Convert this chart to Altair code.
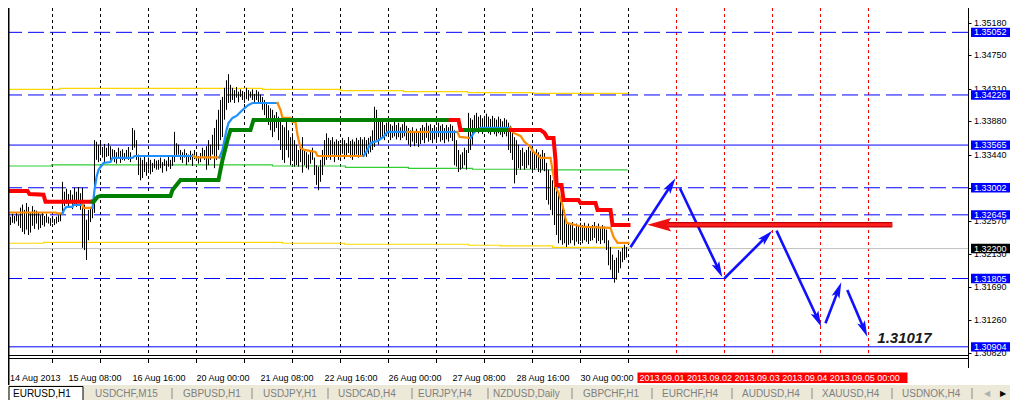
import math
import altair as alt
import pandas as pd

# ------------------------------------------------------------------ data
# EURUSD H1 bars (one per hour, 14 Aug 2013 00:00 .. 30 Aug 2013 23:00)
bar_high = [
    1.3266, 1.3263, 1.3264, 1.3262, 1.3266, 1.3263, 1.3267, 1.3264,
    1.3274, 1.3278, 1.3271, 1.3280, 1.3275, 1.3268, 1.3276, 1.3271,
    1.3270, 1.3267, 1.3264, 1.3268, 1.3263, 1.3266,
    1.3262, 1.3260, 1.3263, 1.3259, 1.3262, 1.3264, 1.3267,
    1.3308,
    1.3295, 1.3299, 1.3292, 1.3297, 1.3291, 1.3300, 1.3295, 1.3301, 1.3293,
    1.3300, 1.3278, 1.3258, 1.3271,
    1.3275, 1.3278, 1.3363,
    1.3361, 1.3357, 1.3362, 1.3354, 1.3358, 1.3353, 1.3359, 1.3355, 1.3351,
    1.3350, 1.3347, 1.3353, 1.3349, 1.3351, 1.3346, 1.3350, 1.3354, 1.3347,
    1.3379, 1.3376, 1.3363,
    1.3344, 1.3340, 1.3337, 1.3341, 1.3334, 1.3340, 1.3337, 1.3333, 1.3338, 1.3336,
    1.3337, 1.3340, 1.3334, 1.3338, 1.3336, 1.3341, 1.3337, 1.3342,
    1.3374, 1.3359, 1.3357,
    1.3350, 1.3347, 1.3351, 1.3346, 1.3344, 1.3349, 1.3345, 1.3350, 1.3347,
    1.3342, 1.3346, 1.3353, 1.3350, 1.3355, 1.3363, 1.3357, 1.3370,
    1.3379, 1.3390, 1.3403, 1.3416, 1.3420, 1.3432,
    1.3442, 1.3450, 1.3436,
    1.3432, 1.3429, 1.3433, 1.3427, 1.3430, 1.3428, 1.3425, 1.3432, 1.3429,
    1.3427, 1.3430, 1.3424, 1.3429, 1.3427, 1.3423,
    1.3420, 1.3416, 1.3412, 1.3409, 1.3405, 1.3403, 1.3396, 1.3400,
    1.3394, 1.3390, 1.3383, 1.3380, 1.3387, 1.3376, 1.3367, 1.3372, 1.3363,
    1.3357, 1.3350, 1.3353, 1.3367, 1.3350, 1.3347, 1.3344, 1.3350, 1.3353, 1.3340,
    1.3330, 1.3328, 1.3337, 1.3350, 1.3363,
    1.3372, 1.3366, 1.3363, 1.3367, 1.3361, 1.3364, 1.3362, 1.3358, 1.3366, 1.3363,
    1.3359, 1.3367, 1.3362, 1.3364, 1.3361, 1.3366, 1.3363, 1.3367, 1.3364,
    1.3367, 1.3363, 1.3366, 1.3368, 1.3376, 1.3407,
    1.3403, 1.3392, 1.3390,
    1.3387, 1.3383, 1.3386, 1.3390, 1.3384, 1.3382, 1.3388, 1.3383, 1.3386,
    1.3380, 1.3384, 1.3387, 1.3382,
    1.3379, 1.3376, 1.3380, 1.3374, 1.3378, 1.3375, 1.3379,
    1.3383, 1.3380, 1.3386, 1.3382, 1.3384, 1.3379, 1.3383, 1.3380, 1.3386,
    1.3382, 1.3384, 1.3379, 1.3383, 1.3380, 1.3384, 1.3382,
    1.3376, 1.3363, 1.3350, 1.3344, 1.3347, 1.3353, 1.3350,
    1.3399, 1.3392, 1.3390,
    1.3396, 1.3399, 1.3394, 1.3396, 1.3392, 1.3395, 1.3398, 1.3394, 1.3391,
    1.3395, 1.3392, 1.3390, 1.3394, 1.3391, 1.3388, 1.3392, 1.3390,
    1.3386, 1.3382, 1.3376, 1.3367,
    1.3363, 1.3357, 1.3350, 1.3353, 1.3347, 1.3350, 1.3354, 1.3349,
    1.3350, 1.3346, 1.3351, 1.3347, 1.3344, 1.3350, 1.3346,
    1.3333, 1.3324, 1.3317,
    1.3310, 1.3304, 1.3297, 1.3291, 1.3284, 1.3278, 1.3271,
    1.3258, 1.3254, 1.3251, 1.3255, 1.3247, 1.3253, 1.3250, 1.3254,
    1.3251, 1.3254, 1.3250, 1.3253, 1.3249, 1.3251, 1.3255, 1.3250, 1.3253,
    1.3247, 1.3251, 1.3249,
    1.3245, 1.3231, 1.3222, 1.3212,
    1.3205, 1.3208,
    1.3218, 1.3216, 1.3221, 1.3225, 1.3222,
]
bar_low = [
    1.3253, 1.3250, 1.3255, 1.3251, 1.3254, 1.3253, 1.3256, 1.3250,
    1.3247, 1.3242, 1.3239, 1.3245, 1.3238, 1.3241, 1.3250, 1.3246,
    1.3253, 1.3245, 1.3247, 1.3251, 1.3249, 1.3254,
    1.3253, 1.3250, 1.3254, 1.3251, 1.3253, 1.3255, 1.3256,
    1.3267,
    1.3276, 1.3279, 1.3274, 1.3280, 1.3272, 1.3278, 1.3275, 1.3284, 1.3271,
    1.3221, 1.3218, 1.3205, 1.3231,
    1.3255, 1.3260, 1.3267,
    1.3337, 1.3334, 1.3344, 1.3340, 1.3333, 1.3341, 1.3342, 1.3336, 1.3340,
    1.3334, 1.3332, 1.3340, 1.3333, 1.3337, 1.3336, 1.3338, 1.3337, 1.3334,
    1.3350, 1.3353, 1.3337,
    1.3317, 1.3310, 1.3313, 1.3321, 1.3316, 1.3324, 1.3318, 1.3321, 1.3326, 1.3324,
    1.3324, 1.3326, 1.3320, 1.3329, 1.3322, 1.3328, 1.3325, 1.3329,
    1.3334, 1.3341, 1.3344,
    1.3337, 1.3333, 1.3340, 1.3330, 1.3334, 1.3337, 1.3329, 1.3338, 1.3336,
    1.3332, 1.3334, 1.3340, 1.3337, 1.3324, 1.3330, 1.3337, 1.3344,
    1.3326, 1.3337, 1.3350, 1.3363, 1.3367, 1.3390,
    1.3403, 1.3412, 1.3413,
    1.3416, 1.3412, 1.3419, 1.3413, 1.3420, 1.3416, 1.3412, 1.3417, 1.3415,
    1.3419, 1.3416, 1.3412, 1.3416, 1.3413, 1.3412,
    1.3403, 1.3396, 1.3390, 1.3383, 1.3376, 1.3367, 1.3374, 1.3379,
    1.3363, 1.3350, 1.3337, 1.3333, 1.3350, 1.3340, 1.3330, 1.3337, 1.3328,
    1.3330, 1.3328, 1.3334, 1.3320, 1.3330, 1.3326, 1.3324, 1.3332, 1.3337, 1.3317,
    1.3304, 1.3297, 1.3308, 1.3317, 1.3330,
    1.3337, 1.3340, 1.3337, 1.3344, 1.3334, 1.3341, 1.3337, 1.3340, 1.3345, 1.3338,
    1.3342, 1.3346, 1.3340, 1.3337, 1.3341, 1.3344, 1.3340, 1.3342, 1.3341,
    1.3344, 1.3341, 1.3345, 1.3347, 1.3350, 1.3354,
    1.3363, 1.3357, 1.3366,
    1.3366, 1.3363, 1.3368, 1.3370, 1.3363, 1.3366, 1.3368, 1.3364, 1.3367,
    1.3363, 1.3366, 1.3368, 1.3363,
    1.3357, 1.3354, 1.3361, 1.3355, 1.3359, 1.3354, 1.3358,
    1.3363, 1.3359, 1.3366, 1.3361, 1.3363, 1.3359, 1.3364, 1.3362, 1.3367,
    1.3361, 1.3363, 1.3359, 1.3364, 1.3361, 1.3366, 1.3362,
    1.3330, 1.3328, 1.3321, 1.3324, 1.3326, 1.3330, 1.3324,
    1.3346, 1.3350, 1.3357,
    1.3374, 1.3376, 1.3372, 1.3375, 1.3371, 1.3374, 1.3376, 1.3372, 1.3370,
    1.3374, 1.3371, 1.3368, 1.3372, 1.3370, 1.3367, 1.3371, 1.3368,
    1.3350, 1.3346, 1.3337, 1.3306,
    1.3317, 1.3326, 1.3324, 1.3329, 1.3324, 1.3326, 1.3330, 1.3325,
    1.3320, 1.3324, 1.3326, 1.3321, 1.3320, 1.3324, 1.3322,
    1.3284, 1.3278, 1.3271,
    1.3264, 1.3251, 1.3238, 1.3227, 1.3231, 1.3225, 1.3227,
    1.3222, 1.3225, 1.3227, 1.3231, 1.3224, 1.3229, 1.3226, 1.3230,
    1.3227, 1.3231, 1.3229, 1.3226, 1.3230, 1.3231, 1.3234, 1.3227, 1.3230,
    1.3226, 1.3231, 1.3227,
    1.3218, 1.3198, 1.3192, 1.3181,
    1.3175, 1.3179,
    1.3188, 1.3194, 1.3202, 1.3205, 1.3208,
]

# horizontal price levels
level_prices = [1.35052, 1.34226, 1.33565, 1.33002, 1.32645, 1.31805, 1.30904]
level_dashed = [True, True, False, True, True, True, False]
current_price = 1.32200
axis_ticks = [1.35180, 1.34750, 1.34310, 1.33880, 1.33440, 1.33000,
              1.32570, 1.32130, 1.31690, 1.31260, 1.30820]

# time axis
time_label_bars = [0, 32, 64, 96, 128, 160, 192, 224, 256, 288]
time_labels = ["14 Aug 2013", "15 Aug 08:00", "16 Aug 16:00", "20 Aug 00:00",
               "21 Aug 08:00", "22 Aug 16:00", "26 Aug 00:00", "27 Aug 08:00",
               "28 Aug 16:00", "30 Aug 00:00"]
grid_bars = [24, 48, 72, 96, 120, 144, 168, 192, 216, 240, 264, 288, 312]
future_bars = [336, 360, 384, 408, 432]
future_label = "2013.09.01 2013.09.02 2013.09.03 2013.09.04 2013.09.05 00:00"
future_label_span = [316.5, 451.5]

# moving average (blue = rising, orange = falling)
ma_bar = [-0.5, 25.5, 27, 29, 30, 31, 34, 34.5, 39, 39.5, 44, 45, 46, 47, 48, 49.5,
          53, 54, 64, 65, 94.5, 95.5, 107.5, 109, 110, 111, 112, 114, 116, 118, 120,
          122, 124, 136.5, 138, 139, 143, 144, 145.5, 146.5, 148, 150, 155.5, 156.5,
          179.5, 181.5, 183, 186.5, 189.5, 191.5, 201.5, 213, 226.5, 227.5, 233, 235,
          236.5, 238, 253, 254.5, 258, 260, 263, 264.5, 266.5, 268, 273, 274, 275.5,
          277, 279, 281, 289.5, 303, 304.5, 306.5, 312]
ma_price = [1.32676, 1.32676, 1.32663, 1.32663, 1.32722, 1.32749, 1.32749, 1.32775,
            1.32775, 1.32736, 1.32736, 1.32973, 1.33144, 1.33237, 1.33276, 1.33329,
            1.33342, 1.33395, 1.33395, 1.33421, 1.33421, 1.33402, 1.33402, 1.33501,
            1.33632, 1.33764, 1.33857, 1.33923, 1.33949, 1.34002, 1.34054, 1.34094,
            1.34120, 1.34120, 1.34028, 1.33923, 1.33923, 1.33870, 1.33870, 1.33698,
            1.33527, 1.33501, 1.33474, 1.33421, 1.33421, 1.33501, 1.33593, 1.33619,
            1.33672, 1.33738, 1.33738, 1.33738, 1.33738, 1.33672, 1.33659, 1.33738,
            1.33764, 1.33791, 1.33791, 1.33725, 1.33685, 1.33606, 1.33540, 1.33474,
            1.33435, 1.33395, 1.33395, 1.33237, 1.33014, 1.32933, 1.32775, 1.32538,
            1.32485, 1.32472, 1.32353, 1.32274, 1.32274]
ma_trend = ["dn", "dn", "dn", "dn", "up", "up", "up", "up", "up", "dn", "dn", "up", "up",
            "up", "up", "up", "up", "up", "up", "up", "up", "dn", "dn", "up", "up", "up",
            "up", "up", "up", "up", "up", "up", "up", "up", "dn", "dn", "dn", "dn", "dn",
            "dn", "dn", "dn", "dn", "dn", "dn", "up", "up", "up", "up", "up", "up", "dn",
            "up", "dn", "dn", "up", "up", "up", "up", "dn", "dn", "dn", "dn", "dn", "dn",
            "dn", "dn", "dn", "dn", "dn", "dn", "dn", "dn", "dn", "dn", "dn", "dn"]

# trend stop line (green = up, red = down)
rg_bar = [-0.5, 11.5, 12.5, 19.5, 20.5, 44, 44.5, 46.5, 48, 83, 84, 88, 107, 108, 109,
          111.5, 113, 123, 124.5, 223, 227, 228, 230.5, 253, 268, 270, 271.5, 274.5,
          275.5, 276, 278.5, 279.5, 287, 288, 295.5, 296.5, 303, 304, 312]
rg_price = [1.32960, 1.32960, 1.32920, 1.32911, 1.32818, 1.32818, 1.32815, 1.32881,
            1.32894, 1.32894, 1.32973, 1.33105, 1.33105, 1.33237, 1.33369, 1.33632,
            1.33764, 1.33764, 1.33896, 1.33896, 1.33896, 1.33764, 1.33764, 1.33764,
            1.33764, 1.33725, 1.33659, 1.33659, 1.33369, 1.33039, 1.33039, 1.32841,
            1.32841, 1.32801, 1.32801, 1.32709, 1.32709, 1.32511, 1.32511]
rg_trend = ["dn", "dn", "dn", "dn", "dn", "dn", "up", "up", "up", "up", "up", "up", "up",
            "up", "up", "up", "up", "up", "up", "up", "dn", "dn", "dn", "up", "dn", "dn",
            "dn", "dn", "dn", "dn", "dn", "dn", "dn", "dn", "dn", "dn", "dn", "dn", "dn"]

# thin channel lines
yellow_hi_bar = [-0.5, 1.5, 1.5, 27.5, 27.5, 129, 129, 168, 168, 199.5, 199.5, 231.5,
                 231.5, 264.5, 264.5, 312]
yellow_hi_price = [1.34292, 1.34292, 1.34301, 1.34301, 1.34314, 1.34314, 1.34301,
                   1.34301, 1.34283, 1.34283, 1.34270, 1.34270, 1.34256, 1.34256,
                   1.34248, 1.34248]
yellow_lo_bar = [-0.5, 19.5, 19.5, 139, 139, 170, 170, 232, 232, 248, 248, 274, 274, 312]
yellow_lo_price = [1.32270, 1.32270, 1.32283, 1.32283, 1.32270, 1.32270, 1.32257,
                   1.32257, 1.32244, 1.32244, 1.32235, 1.32235, 1.32217, 1.32217]
green_bar = [-0.5, 23.5, 23.5, 134, 134, 170.5, 170.5, 202, 202, 234, 234, 268, 268, 311.5]
green_price = [1.33289, 1.33289, 1.33303, 1.33303, 1.33289, 1.33289, 1.33272, 1.33272,
               1.33259, 1.33259, 1.33246, 1.33246, 1.33237, 1.33237]

# forecast arrows
arrow_from_bar = [313, 337.7, 360, 386, 410.5, 421.4]
arrow_from_price = [1.32217, 1.32995, 1.31808, 1.32436, 1.31215, 1.31654]
arrow_to_bar = [335.5, 358.9, 383.9, 408.4, 418.4, 431.4]
arrow_to_price = [1.33127, 1.31821, 1.32436, 1.31170, 1.31756, 1.31038]
red_arrow_from = [443.9, 1.32515]
red_arrow_to = [321.4, 1.32515]
target_text = "1.31017"
target_at = [436.4, 1.31017]

tabs = ["EURUSD,H1", "USDCHF,M15", "GBPUSD,H1", "USDJPY,H1", "USDCAD,H4", "EURJPY,H4",
        "NZDUSD,Daily", "GBPCHF,H1", "EURCHF,H4", "AUDUSD,H4", "XAUUSD,H4", "USDNOK,H4"]

# ------------------------------------------------------------------ layout
W, H = 960, 348
X0, X1 = 1.75, 481.75
Y0, Y1 = 1.30783, 1.35373
SX = W / (X1 - X0)
SY = H / (Y1 - Y0)
FONT = "Liberation Sans"
TAB_X = [5, 87, 175, 255, 330, 410, 485, 575, 654, 734, 814, 894]
SEP_X = [164, 244, 320, 404, 480, 564, 644, 724, 804, 884, 964]

xs = alt.Scale(domain=[X0, X1], nice=False, zero=False)
ys = alt.Scale(domain=[Y0, Y1], nice=False, zero=False)

yaxis = alt.Axis(orient="right", values=axis_ticks, labels=False, tickColor="black",
                 tickSize=3, domainColor="black", grid=False, title=None, zindex=0)


def X(field):
    return alt.X(field, type="quantitative", scale=xs, axis=None)


def Y(field):
    return alt.Y(field, type="quantitative", scale=ys, axis=yaxis, title=None)


layers = []
one = pd.DataFrame({"a": [0]})

# vertical dotted grid (black) and future day separators (red)
grid_df = pd.DataFrame({"bar": grid_bars})
layers.append(alt.Chart(grid_df).mark_rule(color="black", strokeWidth=1, strokeDash=[3, 3])
              .encode(x=X("bar")))
fut_df = pd.DataFrame({"bar": future_bars})
layers.append(alt.Chart(fut_df).mark_rule(color="#ff0000", strokeWidth=1, strokeDash=[3, 3])
              .encode(x=X("bar")))

# price levels
lv = pd.DataFrame({"price": level_prices, "dashed": level_dashed})
layers.append(alt.Chart(lv[lv.dashed]).mark_rule(color="#0000ff", strokeWidth=1, strokeDash=[16, 6])
              .encode(y=Y("price")))
layers.append(alt.Chart(lv[~lv.dashed]).mark_rule(color="#0000ff", strokeWidth=1)
              .encode(y=Y("price")))
layers.append(alt.Chart(pd.DataFrame({"price": [current_price]}))
              .mark_rule(color="#c0c0c0", strokeWidth=1).encode(y=Y("price")))

# thin channel lines
for bars, prices, col in [(yellow_hi_bar, yellow_hi_price, "#ffd700"),
                          (yellow_lo_bar, yellow_lo_price, "#ffd700"),
                          (green_bar, green_price, "#32cd32")]:
    d = pd.DataFrame({"bar": bars, "price": prices, "o": range(len(bars))})
    layers.append(alt.Chart(d).mark_line(color=col, strokeWidth=1.2)
                  .encode(x=X("bar"), y=Y("price"), order="o:Q"))

# price bars
bars_df = pd.DataFrame({"bar": range(len(bar_high)), "high": bar_high, "low": bar_low})
layers.append(alt.Chart(bars_df).mark_rule(color="black", strokeWidth=1)
              .encode(x=X("bar"), y=Y("low"), y2="high"))


def runs(bars, prices, trend, name):
    rows = []
    run = 0
    for i in range(1, len(bars)):
        if i == 1 or trend[i] != trend[i - 1]:
            run += 1
            rows.append({"bar": bars[i - 1], "price": prices[i - 1],
                         "seg": f"{name}{run}", "o": i - 1, "trend": trend[i]})
        rows.append({"bar": bars[i], "price": prices[i], "seg": f"{name}{run}",
                     "o": i, "trend": trend[i]})
    return pd.DataFrame(rows)


ma_df = runs(ma_bar, ma_price, ma_trend, "ma")
layers.append(alt.Chart(ma_df).mark_line(strokeWidth=2.2, strokeJoin="miter", strokeCap="square")
              .encode(x=X("bar"), y=Y("price"), detail="seg:N", order="o:Q",
                      color=alt.Color("trend:N", legend=None,
                                      scale=alt.Scale(domain=["up", "dn"],
                                                      range=["#1e90ff", "#ff8c00"]))))
rg_df = runs(rg_bar, rg_price, rg_trend, "rg")
layers.append(alt.Chart(rg_df).mark_line(strokeWidth=4, strokeJoin="miter", strokeCap="square")
              .encode(x=X("bar"), y=Y("price"), detail="seg:N", order="o:Q",
                      stroke=alt.Stroke("trend:N", legend=None,
                                        scale=alt.Scale(domain=["up", "dn"],
                                                        range=["#008000", "#ff0000"]))))


# arrows
def arrow_parts(b0, p0, b1, p1, back):
    dx = (b1 - b0) * SX
    dy = -(p1 - p0) * SY
    L = math.hypot(dx, dy)
    ang = math.degrees(math.atan2(dx, -dy)) % 360
    eb = b1 - back * dx / L / SX
    ep = p1 + back * dy / L / SY
    return ang, eb, ep


shaft_rows, head_rows = [], []
for k in range(len(arrow_from_bar)):
    ang, eb, ep = arrow_parts(arrow_from_bar[k], arrow_from_price[k],
                              arrow_to_bar[k], arrow_to_price[k], 9)
    shaft_rows.append({"b0": arrow_from_bar[k], "p0": arrow_from_price[k], "b1": eb, "p1": ep})
    head_rows.append({"bar": arrow_to_bar[k], "price": arrow_to_price[k], "ang": ang})
layers.append(alt.Chart(pd.DataFrame(shaft_rows)).mark_rule(color="#1010ff", strokeWidth=2.6)
              .encode(x=X("b0"), y=Y("p0"), x2="b1", y2="p1"))
HEAD = "M0,0L0.42,1.6L0,1.25L-0.42,1.6Z"
layers.append(alt.Chart(pd.DataFrame(head_rows))
              .mark_point(shape=HEAD, filled=True, size=400, color="#1010ff", opacity=1)
              .encode(x=X("bar"), y=Y("price"), angle=alt.Angle("ang:Q", scale=None)))

ang, eb, ep = arrow_parts(red_arrow_from[0], red_arrow_from[1],
                          red_arrow_to[0], red_arrow_to[1], 16)
red_df = pd.DataFrame([{"b0": red_arrow_from[0], "p0": red_arrow_from[1], "b1": eb, "p1": ep}])
layers.append(alt.Chart(red_df).mark_rule(color="#c00000", strokeWidth=5.5)
              .encode(x=X("b0"), y=Y("p0"), x2="b1", y2="p1"))
layers.append(alt.Chart(red_df).mark_rule(color="#ff2020", strokeWidth=3)
              .encode(x=X("b0"), y=Y("p0"), x2="b1", y2="p1"))
layers.append(alt.Chart(pd.DataFrame([{"bar": red_arrow_to[0], "price": red_arrow_to[1], "ang": ang}]))
              .mark_point(shape="M0,0L0.45,1.6L0,1.3L-0.45,1.6Z", filled=True, size=900,
                          color="#ee1010", opacity=1)
              .encode(x=X("bar"), y=Y("price"), angle=alt.Angle("ang:Q", scale=None)))

layers.append(alt.Chart(pd.DataFrame([{"bar": target_at[0], "price": target_at[1], "t": target_text}]))
              .mark_text(font=FONT, fontSize=15, fontWeight="bold", fontStyle="italic",
                         color="#1a1a1a", align="left", baseline="middle")
              .encode(x=X("bar"), y=Y("price"), text="t:N"))

# right price scale: tick labels first, level boxes drawn over them
tick_df = pd.DataFrame({"price": axis_ticks, "t": [f"{p:.5f}" for p in axis_ticks]})
layers.append(alt.Chart(tick_df).mark_text(font=FONT, fontSize=9, color="black", align="left",
                                           baseline="middle")
              .encode(x=alt.value(W + 6), y=Y("price"), text="t:N"))
lab_df = pd.DataFrame({"price": level_prices, "t": [f"{p:.5f}" for p in level_prices]})
BOX = "M-2,-0.47L2,-0.47L2,0.47L-2,0.47Z"
layers.append(alt.Chart(lab_df).mark_point(shape=BOX, filled=True, size=400, color="#0000ff", opacity=1)
              .encode(x=alt.value(W + 23), y=Y("price")))
cur_df = pd.DataFrame({"price": [current_price], "t": [f"{current_price:.5f}"]})
layers.append(alt.Chart(cur_df).mark_point(shape=BOX, filled=True, size=400, color="black", opacity=1)
              .encode(x=alt.value(W + 23), y=Y("price")))
layers.append(alt.Chart(pd.concat([lab_df, cur_df]))
              .mark_text(font=FONT, fontSize=9, color="white", align="left", baseline="middle")
              .encode(x=alt.value(W + 6), y=Y("price"), text="t:N"))

# frame
layers.append(alt.Chart(one).mark_rule(color="black", strokeWidth=1.5)
              .encode(x=alt.value(0.75), y=alt.value(0), y2=alt.value(H + 30)))
layers.append(alt.Chart(one).mark_rule(color="black", strokeWidth=1)
              .encode(x=alt.value(0), x2=alt.value(W), y=alt.value(H - 0.5)))
layers.append(alt.Chart(one).mark_rule(color="black", strokeWidth=1)
              .encode(x=alt.value(0), x2=alt.value(W), y=alt.value(H + 2.5)))
layers.append(alt.Chart(one).mark_rule(color="black", strokeWidth=1)
              .encode(x=alt.value(W + 0.5), y=alt.value(0), y2=alt.value(H + 12)))
layers.append(alt.Chart(grid_df).mark_rule(color="black", strokeWidth=1)
              .encode(x=X("bar"), y=alt.value(H + 2.5), y2=alt.value(H + 7)))

# time labels (the first one is pinned to the left edge so that it stays visible)
tl_df = pd.DataFrame({"bar": time_label_bars, "t": time_labels})
layers.append(alt.Chart(tl_df.iloc[1:]).mark_text(font=FONT, fontSize=9, color="black", align="left",
                                                  baseline="middle")
              .encode(x=X("bar"), y=alt.value(H + 22), text="t:N"))
layers.append(alt.Chart(tl_df.iloc[:1]).mark_text(font=FONT, fontSize=9, color="black", align="left",
                                                  baseline="middle")
              .encode(x=alt.value(2), y=alt.value(H + 22), text="t:N"))
fl_df = pd.DataFrame({"b0": [future_label_span[0]], "b1": [future_label_span[1]], "t": [future_label]})
layers.append(alt.Chart(fl_df).mark_rect(color="#ff0000")
              .encode(x=X("b0"), x2="b1", y=alt.value(H + 16.5), y2=alt.value(H + 27)))
layers.append(alt.Chart(fl_df).mark_text(font=FONT, fontSize=9, color="white", align="left",
                                         baseline="middle", dx=2)
              .encode(x=X("b0"), y=alt.value(H + 22), text="t:N"))

# tab bar
layers.append(alt.Chart(one).mark_rect(color="#ece9d8")
              .encode(x=alt.value(0), x2=alt.value(W + 42), y=alt.value(H + 29), y2=alt.value(H + 44)))
layers.append(alt.Chart(one).mark_rect(color="white", stroke="black", strokeWidth=1)
              .encode(x=alt.value(1), x2=alt.value(75), y=alt.value(H + 30.5), y2=alt.value(H + 46)))
for i, name in enumerate(tabs):
    layers.append(alt.Chart(pd.DataFrame({"t": [name]}))
                  .mark_text(font=FONT, fontSize=10, color="black" if i == 0 else "#808080",
                             align="left", baseline="middle")
                  .encode(x=alt.value(TAB_X[i]), y=alt.value(H + 38), text="t:N"))
for sxp in SEP_X:
    layers.append(alt.Chart(one).mark_rule(color="#8a8a8a", strokeWidth=1)
                  .encode(x=alt.value(sxp), y=alt.value(H + 32), y2=alt.value(H + 43)))
layers.append(alt.Chart(pd.DataFrame({"t": ["◀"]})).mark_text(font="DejaVu Sans", fontSize=8,
                                                               color="#b0b0b0", baseline="middle")
              .encode(x=alt.value(W + 19), y=alt.value(H + 38), text="t:N"))
layers.append(alt.Chart(pd.DataFrame({"t": ["▶"]})).mark_text(font="DejaVu Sans", fontSize=8,
                                                               color="black", baseline="middle")
              .encode(x=alt.value(W + 35), y=alt.value(H + 38), text="t:N"))

chart = alt.layer(*layers).properties(
    width=W, height=H,
    autosize=alt.AutoSizeParams(type="none"),
    padding={"left": 0, "top": 0, "right": 42, "bottom": 44},
    background="white",
).configure_view(stroke=None)

chart.save("out.html", embed_options={"renderer": "svg", "actions": False})
